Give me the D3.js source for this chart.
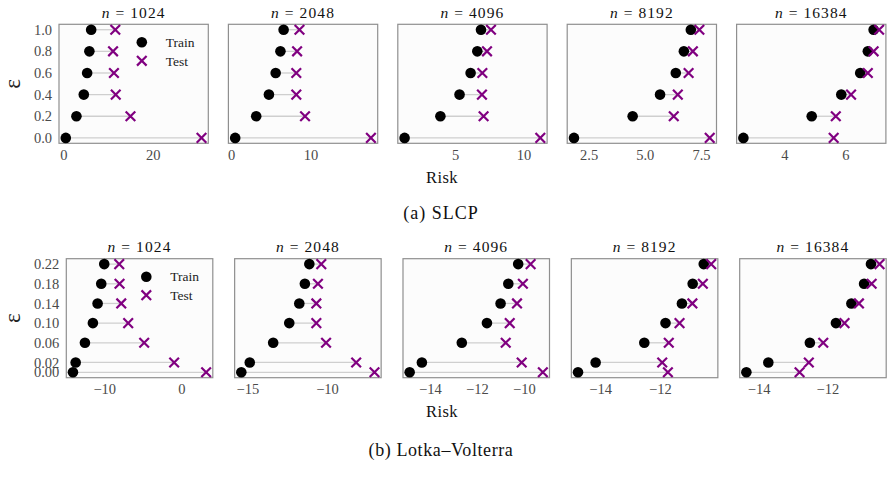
<!DOCTYPE html>
<html>
<head>
<meta charset="utf-8">
<script src="https://cdn.jsdelivr.net/npm/d3@7"></script>
<style>
  body { margin: 0; background: #fff; }
  svg text { font-family: "Liberation Serif", "DejaVu Serif", serif; }
</style>
</head>
<body>
<svg id="mainSvg" width="893" height="488"></svg>
<script>
// sample sizes, one panel each
var nLabels = [1024, 2048, 4096, 8192, 16384];

// SLCP, eps ascending
var slcpEps = [0.0, 0.2, 0.4, 0.6, 0.8, 1.0];
var slcpEpsTicks = ["0.0", "0.2", "0.4", "0.6", "0.8", "1.0"];
var slcpTrain = [
	[0.52, 2.9, 4.55, 5.3, 5.8, 6.2],
	[0.5, 3.15, 4.75, 5.6, 6.2, 6.6],
	[1.30, 3.92, 5.32, 6.13, 6.62, 6.89],
	[1.85, 4.46, 5.68, 6.38, 6.74, 7.05],
	[2.66, 4.90, 5.87, 6.49, 6.74, 6.93]
];
var slcpTest = [
	[30.9, 15.0, 11.7, 11.3, 11.1, 11.6],
	[17.6, 9.3, 8.2, 8.2, 8.3, 8.6],
	[11.23, 7.08, 6.96, 6.99, 7.33, 7.62],
	[7.89, 6.29, 6.47, 6.95, 7.14, 7.43],
	[5.62, 5.69, 6.19, 6.74, 6.93, 7.11]
];
var slcpXTicks = [[0, 20], [0, 10], [5, 10], [2.5, 5.0, 7.5], [4, 6]];

// Lotka-Volterra
var lvEps = [0.00, 0.02, 0.06, 0.10, 0.14, 0.18, 0.22];
var lvEpsTicks = ["0.00", "0.02", "0.06", "0.10", "0.14", "0.18", "0.22"];
var lvTrain = [
	[-14.05, -13.7, -12.5, -11.47, -10.86, -10.39, -10.0],
	[-15.38, -14.85, -13.38, -12.37, -11.74, -11.39, -11.11],
	[-14.86, -14.34, -12.64, -11.57, -10.99, -10.66, -10.24],
	[-14.74, -14.15, -12.52, -11.81, -11.26, -10.9, -10.53],
	[-14.36, -13.72, -12.51, -11.75, -11.3, -10.93, -10.73]
];
var lvTest = [
	[3.19, -0.95, -4.83, -6.9, -7.8, -8.02, -8.06],
	[-7.02, -8.17, -10.06, -10.67, -10.67, -10.57, -10.36],
	[-9.19, -10.09, -10.77, -10.6, -10.29, -10.04, -9.71],
	[-11.73, -11.92, -11.7, -11.34, -10.91, -10.56, -10.28],
	[-12.81, -12.54, -12.12, -11.5, -11.08, -10.71, -10.48]
];
var lvXTicks = [[-10, 0], [-15, -10], [-14, -12, -10], [-14, -12], [-14, -12]];

var svg = d3.select("#mainSvg");
var purple = "#800080";
var tickGrey = "#4a4a4a";

function pad(ext)
{
	var m = (ext[1] - ext[0]) * 0.05;
	return [ext[0] - m, ext[1] + m];
}

function drawRow(cfg)
{
	for(var i = 0; i < nLabels.length; i++)
	{
		var left = cfg.left + i * cfg.step;
		var right = left + cfg.width;
		var train = cfg.train[i], test = cfg.test[i];
		var x = d3.scaleLinear().domain(pad(d3.extent(train.concat(test)))).range([left, right]);
		var y = d3.scaleLinear().domain(pad(d3.extent(cfg.eps))).range([cfg.bottom, cfg.top]);
		var g = svg.append("g");

		g.append("rect").attr("x", left).attr("y", cfg.top)
			.attr("width", cfg.width).attr("height", cfg.bottom - cfg.top)
			.attr("fill", "#fcfcfc").attr("stroke", "#8f8f8f").attr("stroke-width", 1.2);

		var rows = cfg.eps.map(function(e, k) { return {e: e, tr: train[k], te: test[k]}; });

		g.selectAll("line.link").data(rows).enter().append("line")
			.attr("x1", function(d) { return x(d.tr); }).attr("x2", function(d) { return x(d.te); })
			.attr("y1", function(d) { return y(d.e); }).attr("y2", function(d) { return y(d.e); })
			.attr("stroke", "#cfcfcf").attr("stroke-width", 1.3);
		g.selectAll("circle").data(rows).enter().append("circle")
			.attr("cx", function(d) { return x(d.tr); }).attr("cy", function(d) { return y(d.e); })
			.attr("r", 5.3).attr("fill", "#000");
		g.selectAll("path.cross").data(rows).enter().append("path")
			.attr("d", function(d) {
				var cx = x(d.te), cy = y(d.e), s = 4.8;
				return "M" + (cx - s) + "," + (cy - s) + "L" + (cx + s) + "," + (cy + s) +
					"M" + (cx - s) + "," + (cy + s) + "L" + (cx + s) + "," + (cy - s);
			})
			.attr("stroke", purple).attr("stroke-width", 2.2).attr("fill", "none");

		// x axis
		var fmt = cfg.xTicks[i].some(function(v) { return v % 1 != 0; }) ? d3.format(".1f") : d3.format("d");
		var ax = g.append("g").attr("transform", "translate(0," + cfg.bottom + ")")
			.call(d3.axisBottom(x).tickValues(cfg.xTicks[i]).tickSize(0).tickPadding(6).tickFormat(fmt));
		ax.select(".domain").remove();
		ax.selectAll("text").attr("font-size", 14.5).attr("fill", tickGrey);

		if(i == 0)
		{
			var ay = g.append("g").attr("transform", "translate(" + left + ",0)")
				.call(d3.axisLeft(y).tickValues(cfg.eps).tickSize(0).tickPadding(7)
					.tickFormat(function(d, k) { return cfg.epsTicks[k]; }));
			ay.select(".domain").remove();
			ay.selectAll("text").attr("font-size", 14.5).attr("fill", tickGrey);

			// legend
			var lx = right - 66.5;
			g.append("circle").attr("cx", lx).attr("cy", cfg.top + 18).attr("r", 5.3).attr("fill", "#000");
			g.append("path").attr("d", "M" + (lx - 4.8) + "," + (cfg.top + 36.5 - 4.8) + "l9.6,9.6m-9.6,0l9.6,-9.6")
				.attr("stroke", purple).attr("stroke-width", 2.2);
			g.append("text").attr("x", lx + 24).attr("y", cfg.top + 18).attr("dy", "0.35em")
				.attr("font-size", 13.5).attr("fill", "#222").text("Train");
			g.append("text").attr("x", lx + 24).attr("y", cfg.top + 36.5).attr("dy", "0.35em")
				.attr("font-size", 13.5).attr("fill", "#222").text("Test");

			svg.append("text").attr("transform", "translate(" + 20 + "," + ((cfg.top + cfg.bottom) / 2) + ") rotate(-90)")
				.attr("text-anchor", "middle").attr("font-size", 23).attr("fill", "#222").text("ε");
		}

		var t = svg.append("text").attr("x", (left + right) / 2).attr("y", cfg.top - 6.5)
			.attr("text-anchor", "middle").attr("font-size", 15.5).attr("fill", "#111");
		t.append("tspan").attr("font-style", "italic").text("n");
		t.append("tspan").attr("dx", 6).text("=");
		t.append("tspan").attr("dx", 6).attr("letter-spacing", 1.1).text(nLabels[i]);
	}
	svg.append("text").attr("x", 442).attr("y", cfg.bottom + 39.5).attr("text-anchor", "middle")
		.attr("font-size", 16.5).attr("letter-spacing", 0.4).attr("fill", "#111").text("Risk");
}

drawRow({left: 59, step: 169.4, width: 149.3, top: 24.3, bottom: 143.3,
	eps: slcpEps, epsTicks: slcpEpsTicks, train: slcpTrain, test: slcpTest, xTicks: slcpXTicks});
drawRow({left: 66.3, step: 168.35, width: 146.5, top: 258.7, bottom: 377.7,
	eps: lvEps, epsTicks: lvEpsTicks, train: lvTrain, test: lvTest, xTicks: lvXTicks});

svg.append("text").attr("x", 441).attr("y", 219).attr("text-anchor", "middle")
	.attr("font-size", 18).attr("letter-spacing", 1).attr("fill", "#111").text("(a) SLCP");
svg.append("text").attr("x", 441).attr("y", 456).attr("text-anchor", "middle")
	.attr("font-size", 18).attr("letter-spacing", 0.6).attr("fill", "#111").text("(b) Lotka–Volterra");
</script>
</body>
</html>
